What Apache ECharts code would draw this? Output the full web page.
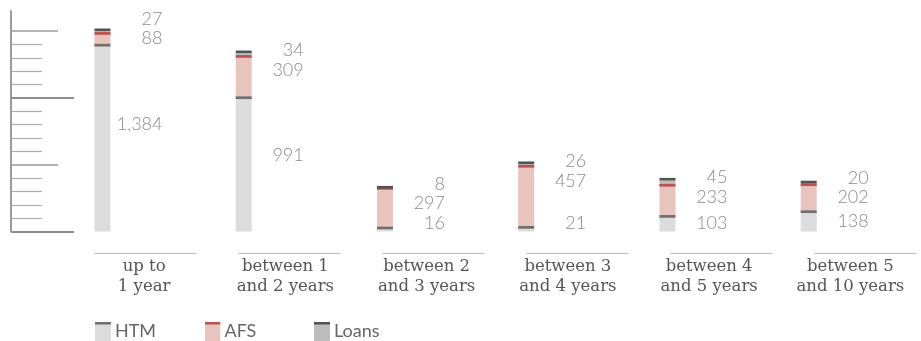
<!DOCTYPE html>
<html>
<head>
<meta charset="utf-8">
<script src="https://cdn.jsdelivr.net/npm/echarts@6/dist/echarts.min.js"></script>
<style>
  html, body { margin: 0; padding: 0; background: #ffffff; }
  #chart { width: 921px; height: 341px; }
</style>
</head>
<body>
<div id="chart"></div>
<script>
// ---- data ----
const categories = ['up to\n1 year', 'between 1\nand 2 years', 'between 2\nand 3 years',
                    'between 3\nand 4 years', 'between 4\nand 5 years', 'between 5\nand 10 years'];
const seriesNames = ['HTM', 'AFS', 'Loans'];
const htm   = [1384, 991, 16, 21, 103, 138];
const afs   = [88, 309, 297, 457, 233, 202];
const loans = [27, 34, 8, 26, 45, 20];
const yMin = 0;
const yMax = 1650;
const majorTickValues = [500, 1500];
const longTickValues = [0, 1000];
const minorStep = 100;

// ---- styles ----
const fills = ['#dcdcdc', '#e9c4bf', '#bdbdbd'];
const caps  = ['#6f6f6f', '#c0504d', '#535353'];
const BAR_W = 16;
const CAP_H = 2.7;
const BAR_SHIFT = 0.295;   // bar sits left of the category centre (fraction of band)
const LABEL_DX = 68;       // label right edge relative to bar left
const LEGEND_LEFT = 95;
const LEGEND_STEP = 109.5;

const minorTickValues = [];
for (let v = yMin + minorStep; v < 1500; v += minorStep) {
  if (v % 500 !== 0) minorTickValues.push(v);
}

const valuesBy = [htm, afs, loans];
const fmt = v => v.toLocaleString('en-US');

function stackData(s) {
  return categories.map((c, i) => {
    let lo = 0;
    for (let k = 0; k < s; k++) lo += valuesBy[k][i];
    return [i, lo, lo + valuesBy[s][i]];
  });
}

// label vertical layout for a category: returns [yHTM, yAFS, yLoans]
function labelYs(i, api) {
  const base = api.coord([i, 0])[1];
  const hTop = api.coord([i, htm[i]])[1];
  const aTop = api.coord([i, htm[i] + afs[i]])[1];
  const top  = api.coord([i, htm[i] + afs[i] + loans[i]])[1];
  let L = top - 3;
  let A = Math.min((aTop + hTop) / 2 - 2, L + 20);
  let H = hTop + 0.42 * (base - hTop);
  H = Math.max(H, A + 20);
  H = Math.min(H, base - 8.5);
  A = Math.min(A, H - 20);
  L = Math.min(L, A - 19);
  return [H, A, L];
}

function makeRender(s) {
  return function (params, api) {
    const i = api.value(0);
    const lo = api.value(1), hi = api.value(2);
    const pTop = api.coord([i, hi]);
    const pBase = api.coord([i, lo]);
    const band = api.size([1, 0])[0];
    const left = pTop[0] - band * BAR_SHIFT - BAR_W / 2;
    const ys = labelYs(i, api);
    return {
      type: 'group',
      children: [
        { type: 'rect', z2: 1,
          shape: { x: left, y: pTop[1], width: BAR_W, height: pBase[1] - pTop[1] },
          style: { fill: fills[s] } },
        { type: 'rect', z2: 10,
          shape: { x: left, y: pTop[1] - CAP_H, width: BAR_W, height: CAP_H },
          style: { fill: caps[s] } },
        { type: 'text', z2: 20,
          x: left + LABEL_DX, y: ys[s],
          style: { text: fmt(valuesBy[s][i]), align: 'right', verticalAlign: 'middle',
                   fontFamily: 'Lato', fontWeight: 300, fontSize: 18, fill: '#8a8a8a' } }
      ]
    };
  };
}

function legendIcon(s) {
  const svg = "<svg xmlns='http://www.w3.org/2000/svg' width='16' height='19'>" +
    "<rect width='16' height='19' fill='" + fills[s] + "'/>" +
    "<rect width='16' height='2.5' fill='" + caps[s] + "'/></svg>";
  return 'image://data:image/svg+xml;charset=utf-8,' + encodeURIComponent(svg);
}

function yAx(extra) {
  return Object.assign({
    type: 'value', min: yMin, max: yMax, position: 'left', offset: 62.5,
    axisLabel: { show: false }, splitLine: { show: false },
    axisLine: { show: false }
  }, extra);
}

const chart = echarts.init(document.getElementById('chart'), null, { renderer: 'canvas' });
chart.setOption({
  animation: false,
  backgroundColor: '#ffffff',
  grid: { left: 73.5, top: 11, width: 864, height: 220.5 },
  legend: seriesNames.map((n, s) => ({
    left: LEGEND_LEFT + s * LEGEND_STEP, top: 322, padding: 0,
    itemWidth: 16, itemHeight: 19,
    textStyle: { fontFamily: 'Lato', fontSize: 18, color: '#666666', padding: [0, 0, 0, -1] },
    data: [{ name: n, icon: legendIcon(s) }]
  })),
  xAxis: {
    type: 'category', data: categories, offset: 21.5,
    axisLine: { show: true, onZero: false,
                lineStyle: { color: '#b8b8b8', width: 1, type: [101, 43], dashOffset: 122.5 } },
    axisTick: { show: false },
    axisLabel: { interval: 0, margin: 4, fontFamily: 'DejaVu Serif', fontSize: 16.5, lineHeight: 20, color: '#555555' }
  },
  yAxis: [
    yAx({ axisLine: { show: true, lineStyle: { color: '#9c9c9c', width: 2 } },
          axisTick: { show: true, inside: true, length: 47, customValues: majorTickValues,
                      lineStyle: { color: '#9a9a9a', width: 1.5 } } }),
    yAx({ axisTick: { show: true, inside: true, length: 31, customValues: minorTickValues,
                      lineStyle: { color: '#ababab', width: 1.2 } } }),
    yAx({ axisTick: { show: true, inside: true, length: 63, customValues: longTickValues,
                      lineStyle: { color: '#8e8e8e', width: 2 } } })
  ],
  series: seriesNames.map((n, s) => ({
    name: n, type: 'custom', coordinateSystem: 'cartesian2d',
    xAxisIndex: 0, yAxisIndex: 0,
    encode: { x: 0, y: [1, 2] },
    renderItem: makeRender(s),
    data: stackData(s)
  }))
});
</script>
</body>
</html>
